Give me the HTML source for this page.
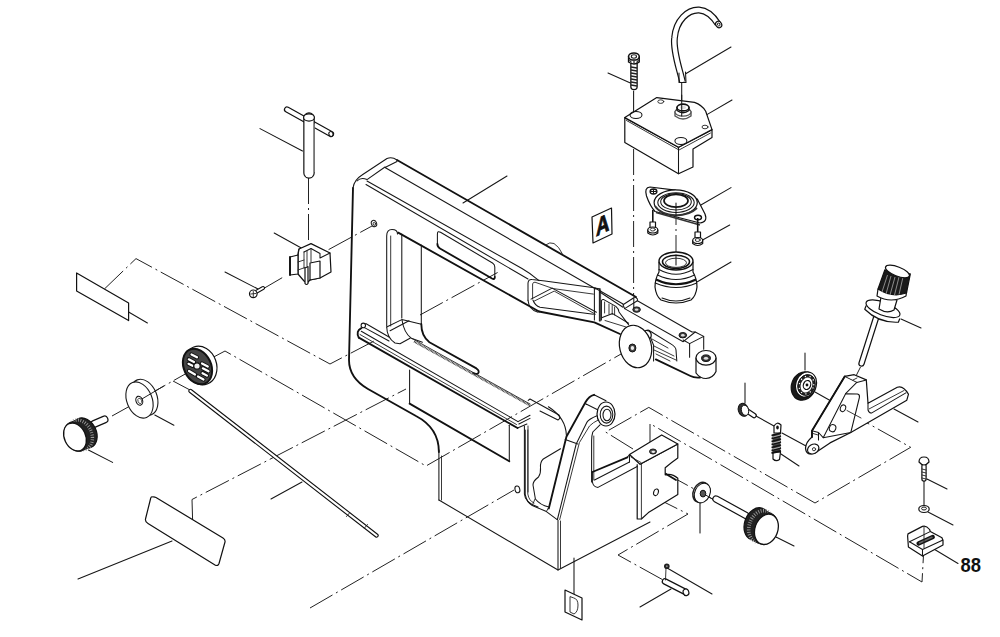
<!DOCTYPE html>
<html><head><meta charset="utf-8"><style>
html,body{margin:0;padding:0;background:#fff;width:1000px;height:637px;overflow:hidden}
svg{display:block;font-family:"Liberation Sans",sans-serif}
.l{fill:none;stroke:#161616;stroke-width:1.05;stroke-linejoin:round;stroke-linecap:round}
.t{fill:none;stroke:#111;stroke-width:1.85;stroke-linejoin:round;stroke-linecap:round}
.th{fill:none;stroke:#222;stroke-width:0.9;stroke-linejoin:round;stroke-linecap:round}
.d{fill:none;stroke:#222;stroke-width:1.0;stroke-dasharray:26 4 2 4}
.w{fill:#fff;stroke:#111;stroke-width:1.2;stroke-linejoin:round}
.wt{fill:#fff;stroke:#111;stroke-width:2;stroke-linejoin:round}
</style></head><body>
<svg width="1000" height="637" viewBox="0 0 1000 637">

<!-- ===== dash-dot centre lines ===== -->
<g class="d">
  <path d="M104.4,289 L136,258.6 L330,364 L376,340"/>
  <path d="M308.5,178 L308.5,244"/>
  <path d="M264,288.3 L282.2,277.7"/>
  <path d="M328.6,249.6 L372,226"/>
  <path d="M112,416 L130,406"/>
  <path d="M142.7,398 L187,373"/>
  <path d="M173,381 L190,390"/>
  <path d="M208,360 L225,351 L426,466 L628,350"/>
  <path d="M192.6,520 L192,499.5 L406,389"/>
  <path d="M420,315 L497.6,272.5"/>
  <path d="M633.6,149 L633.6,296"/>
  <path d="M310,608 L514,490"/>
  <path d="M633,449 L605.6,432 L648.8,407.4 L815,503 L910.7,447.3 L841.8,408.8"/>
  <path d="M650,450 L650,423.6 L922,582 L923.5,555"/>
  <path d="M665,473 L716,501"/>
  <path d="M654,497 L688,514 L618,555 L665,581"/>
  <path d="M676,261 L676,203"/>
  <path d="M860.5,367 L854,380"/>
</g>

<!-- ===== leader lines ===== -->
<g class="l">
  <path d="M128.6,312 L147.4,323"/>
  <path d="M260,128.6 L302.5,151"/>
  <path d="M274.2,233 L301.3,248"/>
  <path d="M225,272 L258,289"/>
  <path d="M88.4,450 L112.6,462.4"/>
  <path d="M154.8,415 L173.9,425.2"/>
  <path d="M78,579 L172,541"/>
  <path d="M271,499 L302,482"/>
  <path d="M463,203 L507,176"/>
  <path d="M608,73 L630.4,83"/>
  <path d="M685.7,73.7 L731,47"/>
  <path d="M707.3,114.4 L732,100"/>
  <path d="M700.9,205 L731,187.6"/>
  <path d="M703,239.7 L729.7,225"/>
  <path d="M697.4,281.8 L731,262"/>
  <path d="M901,319 L921,328"/>
  <path d="M805,353 L805,370"/>
  <path d="M745,383 L745,403"/>
  <path d="M815,392 L831,401"/>
  <path d="M756,416 L774,426"/>
  <path d="M782,433 L806,446"/>
  <path d="M781,454 L799,466"/>
  <path d="M894,409 L918,422"/>
  <path d="M927,479 L947,489"/>
  <path d="M928,512 L953,525"/>
  <path d="M933,548.5 L958,563.5"/>
  <path d="M700,502 L700,533"/>
  <path d="M776,537 L794,546"/>
  <path d="M640,607 L671,589"/>
  <path d="M574,558 L574,597"/>
  <path d="M924,479 L924,507"/>
  <path d="M681.7,82.5 L681.7,104"/>
  <path d="M633.6,91 L633.6,116"/>
</g>


<!-- ===== main frame ===== -->
<g id="frame">
  <!-- outer silhouette -->
  <path class="t" d="M636,297 L397,160"/>
  <path class="th" d="M545.5,245 Q550,241.5 554,243.5 Q559,246.5 562.2,253.5"/>
  <path class="l" d="M397,160 Q392,156.5 387,158.5 L362,175 Q354,180 353,188"/>
  <path class="t" d="M353,188 L349,360 Q349,378 368,389 L416,416 Q438.9,428 438.9,452"/>
  <path class="l" d="M438.9,450 L438.9,500"/>
  <ellipse class="l" cx="374" cy="223.5" rx="2.6" ry="3.3" transform="rotate(-20 374 223.5)"/>
  <ellipse class="th" cx="374.3" cy="223.8" rx="1.2" ry="1.6"/>
  <path class="l" d="M438.9,500 L558,570 L650,522"/>
  <path class="th" d="M441.5,456 L441.5,500"/>
  <ellipse class="l" cx="517.4" cy="489.4" rx="2.4" ry="3.4" transform="rotate(-15 517.4 489.4)"/>
  <path class="l" d="M558,521 L558,570"/>
  <path class="th" d="M560.5,521 L560.5,568"/>
  <!-- top face lines -->
  <path class="l" d="M397,161.5 L385,167.5 L596,289"/>
  <path class="l" d="M385,167 L367,179.6 Q361,177 357,181"/>
  <path class="l" d="M367,181 L522,268.5 Q530,273 539,280.6"/>
  <path class="l" d="M366,184.5 L528,279"/>
  <!-- slot -->
  <path class="l" d="M437.4,244 L437.4,234 Q437.4,230.5 440.5,232.3 L492.5,263 Q494.8,264.5 494.8,267 L494.8,277"/>
  <path class="t" d="M437.4,244 Q437.4,247 440,248.5 L492,278.5 Q494.8,280 494.8,277"/>
  <!-- window -->
  <path class="t" d="M398.2,232.6 L539,311.5"/>
  <path class="l" d="M386.7,326 L386.7,236 Q386.7,229.5 392,229.5 Q397.5,229.5 397.5,234"/>
  <path class="th" d="M390.7,326 L390.7,236"/>
  <path class="l" d="M401.8,234 L401.8,318"/>
  <path class="l" d="M421.3,245 L421.3,324"/>
  <path class="l" d="M386.7,327 Q387,338 395,343 L400,343.7 L410,338.2"/>
  <path class="l" d="M386.7,327 L401.8,319.6 L420.4,324.1"/>
  <path class="l" d="M402,320 Q404,333 411.3,338.2 L422.4,342.2"/>
  <path class="t" d="M421.3,324 Q421.3,336 429.4,342.2 L476.4,368.4 Q480,371 478,373.5 Q476,374.5 473,373"/>
  <path class="l" d="M390.1,330.7 L409,320.8"/>
  <!-- rail -->
  <path class="l" d="M365.7,323.5 L389,337"/>
  <path class="l" d="M364.5,327.6 L389,341"/>
  <ellipse class="l" cx="363.3" cy="325.4" rx="2.2" ry="2.3"/>
  <path class="th" d="M412,338.5 L530,404"/>
  <path d="M414,341.5 L530,405.5" stroke="#333" stroke-width="2" stroke-dasharray="0.8 0.6" fill="none"/>
  <path class="t" d="M361.3,328.2 Q355.5,331 358.8,337.6"/>
  <path class="t" d="M358.8,337.6 L517.5,428"/>
  <path class="l" d="M361.3,331.3 L518,421.6"/>
  <path class="th" d="M360,334.5 L516.5,424.5"/>
  <path class="l" d="M518,421.6 L530,415.2"/>
  <path class="l" d="M518.9,424 L530,418.4"/>
  <path class="l" d="M517.5,428 L526.9,424"/>
  <!-- lower panel -->
  <path class="l" d="M409.6,370 L409.6,403.6"/>
  <path class="t" d="M409.6,403.6 L509.3,461.2"/>
  <path class="l" d="M509.3,461.2 L509.3,425.2"/>
  <!-- blade holder at rail end -->
  <path class="l" d="M528.2,400.4 L530,399 L559,415 Q561,418 558,420 L540,411"/>
  <path class="l" d="M548.4,406.8 Q566,418 566.4,435.6"/>
  <path class="l" d="M524.4,426 L524.4,494 Q525,503 538,507"/>
  <path class="th" d="M528,426 L528,492"/>
  <!-- truss -->
  <path class="t" d="M539,311.5 L594.4,322.3 L620,334"/>
  <path class="l" d="M528,300.2 L528,283 Q528.5,279 532,279.5 L545,281 L592.4,287.6 L600.4,289.1"/>
  <path class="th" d="M532.6,299 L532.6,284 Q533,282 535,282.2 L553.2,288.6 L593.4,294.1"/>
  <path class="l" d="M531,299.1 L552.2,288.1 L596.4,312.2"/>
  <path class="th" d="M534,301.2 L554.2,291.1 L595.4,314.2"/>
  <path class="l" d="M533,300.2 Q535,305.5 540,307.2 L593.4,314.2"/>
  <path class="l" d="M528,300.2 Q529,310 538,312.2"/>
  <path class="l" d="M594.4,288.6 L594.4,320"/>
  <path class="l" d="M599.4,289 L599.4,321"/>
  <path class="th" d="M600.6,290 L600.6,321"/>
  <path class="l" d="M595,288 L623,304"/>
  <path class="l" d="M599.8,292 L623,307.2"/>
  <path class="l" d="M601.4,320 L601.4,301 Q602,299 603.8,299.6 L615.8,306.4 Q619,309 619,312 L626.2,321.6 L628.6,324.8"/>
  <path class="th" d="M604.6,302 L604.6,313 M609,304 L609,314 M612.2,305.5 L612.2,314.5 M614.6,307 L614.6,315"/>
  <path class="l" d="M602.2,317.6 L612.6,313.6 L628.6,323.2"/>
  <path class="th" d="M605,320.5 L626,327"/>
  <!-- arm end top -->
  <path class="l" d="M634.2,296.4 L637.4,298.8 L637.4,300.8 L624.6,308.6 L623,304.8 L634.2,297.5"/>
  <path class="l" d="M637.4,300.8 L692,332 L695.2,332 L703.7,336.4 L703.7,349.2"/>
  <path class="l" d="M624.6,308.6 L683.2,341.7 L695.2,332"/>
  <path class="l" d="M683.2,340 L689.6,343.6 L703.7,336.4"/>
  <path class="l" d="M689.6,343.6 L689.6,357.2"/>
  <path class="l" d="M633.8,298.4 L633.8,308"/>
  <ellipse cx="636.6" cy="309.6" rx="3.8" ry="2.7" fill="#444" stroke="#111" stroke-width="1"/>
  <ellipse cx="682.8" cy="335.2" rx="3.8" ry="2.7" fill="#444" stroke="#111" stroke-width="1"/>
  <ellipse cx="636.6" cy="309.6" rx="1.8" ry="1.2" fill="#ddd"/>
  <ellipse cx="682.8" cy="335.2" rx="1.8" ry="1.2" fill="#ddd"/>
  <!-- ribbed slot -->
  <path class="l" d="M653.6,361 L653.6,345.2 L648.8,333.2 Q646,331 647,330.5 Q648,329.5 650,331 L670.4,343.6 Q676,347 676,350 L676.8,361"/>
  <path class="th" d="M654,346 L674,356 M654,350 L676,360 M656,354 L670,361 M652,339 L668,348"/>
  <!-- eye boss -->
  <path class="w" d="M696,358 L696,373 Q700,378.5 706,378.5 Q713,378 716,371.5 L716,358 Z"/>
  <ellipse class="w" cx="706" cy="357.8" rx="10" ry="7.3"/>
  <ellipse cx="706" cy="358.2" rx="4.4" ry="3.3" fill="#333" stroke="#111" stroke-width="1"/>
  <ellipse cx="706" cy="358.2" rx="2.2" ry="1.5" fill="#ddd"/>
  <path class="t" d="M655.8,359.4 L690.5,376 Q694,378 700,377.5"/>
  <!-- pulley disc -->
  <path class="w" d="M644,333 Q645,329 649,331 Q652,333 651,337 L648,340 Z"/>
  <ellipse class="w" cx="635.5" cy="346.5" rx="15.8" ry="21.5" transform="rotate(-14 635.5 346.5)"/>
  <ellipse cx="632.4" cy="348" rx="3.5" ry="4" fill="#444" stroke="#111" stroke-width="1"/>
  <ellipse cx="632.4" cy="348" rx="1.7" ry="2.1" fill="#eee"/>
</g>


<!-- ===== parts ===== -->
<!-- T wrench -->
<g>
  <path d="M287,109.5 L331,134" stroke="#111" stroke-width="6.2" stroke-linecap="round" fill="none"/>
  <path d="M287,109.5 L331,134" stroke="#fff" stroke-width="3.8" stroke-linecap="round" fill="none"/>
  <ellipse class="l" cx="331" cy="134" rx="2" ry="2.5" transform="rotate(-30 331 134)"/>
  <path d="M309,118 L309,173" stroke="#111" stroke-width="11.5" stroke-linecap="round" fill="none"/>
  <path d="M309,118 L309,173" stroke="#fff" stroke-width="9.1" stroke-linecap="round" fill="none"/>
  <path d="M314.2,124 L314.2,172" stroke="#888" stroke-width="1" fill="none"/>
  <ellipse class="w" cx="309" cy="117.5" rx="5.4" ry="3.6"/>
</g>
<!-- clip -->
<g>
  <path class="w" d="M299,249 L311,243.6 L330,253 L331,272 L320,278 L310,280 L307,283 L304,281 L298,274 L298,255 Z"/>
  <path class="l" d="M299,249 Q298,251 298,255"/>
  <path class="l" d="M304,252 L311,248.5 L320,253.5 L320,258 L330,253"/>
  <path class="th" d="M304,252 L304,268 M307,251 L307,266"/>
  <path class="th" d="M311,248.5 L311,262"/>
  <path class="w" d="M290,257 L298,255 L298,274 L290,275 Z"/>
  <path class="t" d="M290,257 L290,275"/>
  <path class="th" d="M298,262 L304,260 M298,270 L305,267.5"/>
  <path class="w" d="M310,263 L320,261 L320,278 L310,280 Z"/>
  <path class="w" d="M305,268 L305,283.5 Q306.5,285.5 308,283.5 L308,266.5 Z"/>
</g>
<!-- small screw left -->
<g>
  <path d="M256,292 L263,288" stroke="#111" stroke-width="4" stroke-linecap="round"/>
  <path d="M256,292 L263,288" stroke="#fff" stroke-width="2" stroke-linecap="round"/>
  <circle class="w" cx="253.3" cy="293.8" r="3.8"/>
  <path class="th" d="M250.8,294 L255.8,293.5 M253.3,291.5 L253.3,296.5"/>
</g>
<!-- knob 1 -->
<g>
  <path d="M94,424 L104.5,419.5" stroke="#111" stroke-width="8" stroke-linecap="round"/>
  <path d="M94,424 L104.5,419.5" stroke="#fff" stroke-width="5.6" stroke-linecap="round"/>
  <ellipse cx="84.7" cy="433.0" rx="11.6" ry="15.8" transform="rotate(-25 84.7 433.0)" fill="#222" stroke="#111" stroke-width="1.2"/>
  <ellipse cx="82.8" cy="433.8" rx="11.6" ry="15.8" transform="rotate(-25 82.8 433.8)" fill="#222"/>
  <ellipse cx="80.8" cy="434.6" rx="11.6" ry="15.8" transform="rotate(-25 80.8 434.6)" fill="#222"/>
  <ellipse cx="78.9" cy="435.4" rx="11.6" ry="15.8" transform="rotate(-25 78.9 435.4)" fill="#222"/>
  <ellipse cx="76.9" cy="436.2" rx="11.6" ry="15.8" transform="rotate(-25 76.9 436.2)" fill="#222"/>
  <ellipse cx="80.3" cy="434.8" rx="11.3" ry="15.4" transform="rotate(-25 80.3 434.8)" fill="none" stroke="#999" stroke-width="3.4" stroke-dasharray="0.9 1.5"/>
  <ellipse cx="76.0" cy="436.6" rx="11.6" ry="15.8" transform="rotate(-25 76.0 436.6)" fill="#222"/>
  <ellipse cx="75.0" cy="437.0" rx="10.6" ry="14.6" transform="rotate(-25 75.0 437.0)" fill="#fff" stroke="#111" stroke-width="1.3"/>
</g>
<!-- washer 1 -->
<g>
  <ellipse cx="144.3" cy="397.3" rx="18.8" ry="12.6" transform="rotate(68 144.3 397.3)" fill="#fff" stroke="#1a1a1a" stroke-width="1.1"/>
  <ellipse cx="139.5" cy="400" rx="18.8" ry="12.6" transform="rotate(68 139.5 400)" fill="#fff" stroke="#1a1a1a" stroke-width="1.1"/>
  <path d="M141,399.5 L163.8,386" stroke="#222" stroke-width="1"/>
  <ellipse cx="139.3" cy="400.7" rx="3.3" ry="4.6" transform="rotate(-20 139.3 400.7)" fill="#fff" stroke="#111" stroke-width="1.1"/>
  <ellipse cx="139.8" cy="400.9" rx="1.8" ry="2.8" transform="rotate(-20 139.8 400.9)" fill="none" stroke="#333" stroke-width="0.8"/>
</g>
<!-- grid disc -->
<g>
  <ellipse class="w" cx="200.5" cy="365.5" rx="16" ry="19.7" transform="rotate(-20 200.5 365.5)"/>
  <ellipse cx="197.5" cy="366.5" rx="13.6" ry="18.6" transform="rotate(-25 197.5 366.5)" fill="#444" stroke="#111" stroke-width="2"/>
  <path d="M191.5,354.5 L197,357.3 M188.8,359.3 L194,362 M188.5,363.8 L192.5,365.8 M202,363.5 L207.8,366.5 M202.8,368.3 L208.5,371.3 M202.5,373.2 L207,375.6 M189,371 L195,374.5 M198,376.5 L203.5,379.5" stroke="#111" stroke-width="4.2" stroke-linecap="round"/>
  <path d="M191.5,354.5 L197,357.3 M188.8,359.3 L194,362 M188.5,363.8 L192.5,365.8 M202,363.5 L207.8,366.5 M202.8,368.3 L208.5,371.3 M202.5,373.2 L207,375.6 M189,371 L195,374.5 M198,376.5 L203.5,379.5" stroke="#fff" stroke-width="2.2" stroke-linecap="round"/>
  <circle cx="197" cy="366" r="3.2" fill="#eee" stroke="#111" stroke-width="1.2"/>
</g>
<!-- rod -->
<g>
  <path d="M190.5,391 L376.5,535.5" stroke="#111" stroke-width="4.4" stroke-linecap="round"/>
  <path d="M190.5,391 L376.5,535.5" stroke="#fff" stroke-width="2.2" stroke-linecap="round"/>
  <path class="th" d="M346.5,516.5 L349.5,513 M364.5,528 L367.5,524.5"/>
</g>
<!-- top screw -->
<g>
  <path d="M634,63 L634,86.5" stroke="#111" stroke-width="7.6" stroke-linecap="round"/>
  <path d="M634,63 L634,86.5" stroke="#fff" stroke-width="5" stroke-linecap="round"/>
  <path d="M631,67 L637,68 M631,70 L637,71 M631,73 L637,74 M631,76 L637,77 M631,79 L637,80 M631,82 L637,83 M631,85 L637,86" stroke="#222" stroke-width="1.3"/>
  <path d="M628.6,56.5 L628.6,62 Q634,66 639.2,62 L639.2,56.5 Z" fill="#fff" stroke="#111" stroke-width="1.5"/>
  <ellipse cx="633.9" cy="56.5" rx="5.3" ry="3.6" fill="#fff" stroke="#111" stroke-width="1.5"/>
  <ellipse cx="633.9" cy="56.5" rx="2.6" ry="1.7" fill="none" stroke="#222" stroke-width="1.1"/>
  <path d="M629.5,60 L631.5,62.5 M638.5,60 L636.5,62.5 M634,60.5 L634,63.5" stroke="#222" stroke-width="1.2"/>
</g>
<!-- hose -->
<g>
  <path d="M682.5,82 C680,70 673,52 674.5,38 C676,20 688,9.5 699,10 C707,10.5 713,16 718,24" stroke="#111" stroke-width="6.8" fill="none"/>
  <path d="M682.5,82 C680,70 673,52 674.5,38 C676,20 688,9.5 699,10 C707,10.5 713,16 718,24" stroke="#fff" stroke-width="4.4" fill="none"/>
  <ellipse class="w" cx="718.7" cy="24.5" rx="2.8" ry="3.4" transform="rotate(-35 718.7 24.5)"/>
  <ellipse class="th" cx="718.7" cy="24.5" rx="1.2" ry="1.6" transform="rotate(-35 718.7 24.5)"/>
  <path class="l" d="M679,73 L679,82.5 L686,82.5 L685.5,72"/>
</g>
<!-- block -->
<g>
  <path class="w" d="M624.8,117.6 L624.8,142.4 L678.5,173.7 L693,167 L693,149 L712,137.6 L712,129.6 L678.5,147.3 Z"/>
  <path class="w" d="M624.8,117.6 L656.8,97.6 L694.5,102.4 Q702,105 705.7,111.2 L712,129.6 L678.5,147.3 Z"/>
  <path class="th" d="M626.5,120.5 L679,150 L710.5,133"/>
  <path class="l" d="M678.5,147.3 L678.5,173.7"/>
  <ellipse class="l" cx="636" cy="115" rx="6" ry="3.5"/>
  <ellipse class="l" cx="680.9" cy="141" rx="6" ry="3.5"/>
  <ellipse class="th" cx="660.8" cy="101.6" rx="3" ry="1.8"/>
  <ellipse class="th" cx="705" cy="127" rx="3" ry="1.8"/>
  <path d="M675,112 L675,116 Q683,122 691,116 L691,112 Z" fill="#fff" stroke="#555" stroke-width="1.4"/>
  <ellipse cx="683" cy="112" rx="8" ry="4.2" fill="#fff" stroke="#555" stroke-width="1.2"/>
  <path d="M677,107.5 L677,110.5 Q683,115 689,110.5 L689,107.5 Z" fill="#fff" stroke="#111" stroke-width="1.3"/>
  <ellipse cx="683" cy="107.5" rx="6" ry="3.4" fill="#fff" stroke="#111" stroke-width="1.6"/>
  <ellipse cx="683" cy="107.5" rx="3" ry="1.7" fill="#ddd"/>
  <path class="l" d="M681.7,95 L681.7,116"/>
</g>
<!-- flange -->
<g>
  <path class="w" d="M646.5,196 Q644,187.5 650,187 L675.4,190.2 L697.3,199 L705,214 Q708,222 700,223 L655,211.5 Q650,206 646.5,196 Z"/>
  <path d="M656,212.5 L700,225" stroke="#333" stroke-width="1.6" fill="none"/>
  <ellipse class="w" cx="675.7" cy="202.6" rx="21.6" ry="12.7"/>
  <path d="M655,206 Q660,214 676,215.5 Q690,215 697,208" stroke="#333" stroke-width="1.8" fill="none"/>
  <ellipse class="l" cx="676" cy="202.6" rx="18.2" ry="9.8"/>
  <ellipse class="l" cx="676" cy="201.8" rx="15.3" ry="8.2"/>
  <ellipse cx="676" cy="200.8" rx="12" ry="6.3" fill="#fff" stroke="#111" stroke-width="1.7"/>
  <ellipse cx="653.5" cy="191.5" rx="3.4" ry="2.5" fill="#fff" stroke="#111" stroke-width="1.3"/>
  <path d="M650.5,191.5 L656.5,191.5 M653.5,189.2 L653.5,193.8" stroke="#111" stroke-width="1"/>
  <ellipse cx="698" cy="217.5" rx="3.5" ry="2.3" fill="#fff" stroke="#111" stroke-width="1.4"/>
  <path class="l" d="M676,203 L676,216"/>
</g>
<!-- flange screws -->
<g>
  <path d="M652.8,210 L652.8,227" stroke="#111" stroke-width="1.6"/>
  <path class="w" d="M650,222 L650,228 L655.5,228 L655.5,222 Z"/>
  <path class="w" d="M647.8,230 L647.8,233 Q652.8,237 657.8,233 L657.8,230 Z"/>
  <ellipse class="w" cx="652.8" cy="230" rx="5" ry="3"/>
  <ellipse class="th" cx="652.8" cy="229.5" rx="2.5" ry="1.5"/>
  <path d="M697.7,218 L697.7,237" stroke="#111" stroke-width="1.6"/>
  <path class="w" d="M695,232 L695,238 L700.5,238 L700.5,232 Z"/>
  <path class="w" d="M692.7,240.5 L692.7,243.5 Q697.7,247.5 702.7,243.5 L702.7,240.5 Z"/>
  <ellipse class="w" cx="697.7" cy="240.5" rx="5" ry="3"/>
  <ellipse class="th" cx="697.7" cy="240" rx="2.5" ry="1.5"/>
</g>
<!-- bushing -->
<g>
  <path class="w" d="M659,262 L659,272 Q655,279 655,287 Q656,296 661,300 Q676,306 691,300 Q696,296 697,287 Q697,279 693,272 L693,262 Z"/>
  <ellipse cx="676" cy="261" rx="17" ry="9" fill="#fff" stroke="#111" stroke-width="1.4"/>
  <ellipse cx="676" cy="261.8" rx="13.5" ry="6.6" fill="none" stroke="#111" stroke-width="1.6"/>
  <ellipse cx="676" cy="262.8" rx="10.5" ry="4.6" fill="none" stroke="#333" stroke-width="1"/>
  <path class="l" d="M659,269.5 Q676,279 693,269.5"/>
  <path class="l" d="M657.5,275 Q676,284 694.5,275"/>
  <path d="M656,279.5 Q676,289 696,279.5" stroke="#111" stroke-width="2.2" fill="none"/>
  <path class="l" d="M655.3,283 Q676,292 696.7,283"/>
  <path class="l" d="M662,298 Q676,304 690,298"/>
  <path class="l" d="M676,255 L676,265"/>
</g>

<!-- support leg -->
<g>
  <path class="t" d="M594,394.8 Q589,396 585.6,402 L566.4,436.8 L548.8,508.5"/>
  <path class="l" d="M594,394.8 L606,400.8"/>
  <path class="l" d="M585.6,403.8 L597.6,409.8"/>
  <path class="l" d="M597,415.8 Q589,419 586.8,422.4 L576.2,444 L557.4,519.5"/>
  <path class="th" d="M600,419 Q592,423 589.5,426 L579.4,442.6 L559.7,519.5"/>
  <path class="l" d="M565.2,439.4 L577.8,444"/>
  <path class="l" d="M600,424.8 L592.8,432 Q591.6,436 591.6,440.4 L591.6,482"/>
  <path class="th" d="M593.8,436 L593.8,480"/>
  <ellipse class="w" cx="606" cy="414" rx="9" ry="12"/>
  <ellipse class="l" cx="606.5" cy="414.6" rx="6.3" ry="8.5"/>
  <ellipse class="l" cx="607" cy="415" rx="4" ry="5.8"/>
  <!-- notch contour -->
  <path class="l" d="M560.5,448.8 L543.3,459 Q540,462 540.5,467.7 Q541,473 538.5,477 Q533,481 533,485 L535.4,499 Q540,505 548.8,507"/>
  <path class="l" d="M525.2,430 L525.2,494.4 Q527,503 532.3,505.4 L546.4,511.6 L558.2,520.3"/>
  <path class="th" d="M527.8,430 L527.8,494 Q529,501 534,503"/>
  <path class="th" d="M532.3,505.4 L535,499 M546.4,511.6 L548.8,507"/>
</g>
<!-- bracket -->
<g>
  <path class="w" d="M637.2,464.3 L637.2,519 L641.4,519 L648.4,512.6 L677.8,494.4 L677.8,478.3 Q672,473 665.2,474.8 L665.2,467.8 Q672,462 677.8,458 L677.8,444 L640,464.3"/>
  <path class="th" d="M641.4,464.3 L641.4,519"/>
  <path class="w" d="M629.5,454.5 L661.7,434.9 L677.8,444 L640,464.3 Z"/>
  <path class="th" d="M631,457 L641,462.5"/>
  <ellipse cx="653" cy="451.5" rx="3.5" ry="2.5" fill="#555" stroke="#111" stroke-width="1"/>
  <ellipse cx="653.3" cy="451.8" rx="1.8" ry="1.1" fill="#eee"/>
  <path class="t" d="M592.4,472 L627.4,457.3"/>
  <path class="l" d="M592.4,472 L592.4,481.8 Q593,487 598,487.4 L637.2,466.5"/>
  <path class="l" d="M594.5,480 L629.5,462"/>
  <path class="l" d="M627.4,457.3 L629.5,454.5 M629.5,454.5 L629.5,462"/>
  <path class="t" d="M666,474 L676,480"/>
  <ellipse class="l" cx="656" cy="492.3" rx="2.3" ry="3.4" transform="rotate(20 656 492.3)"/>
</g>
<!-- washer 2 -->
<g>
  <ellipse cx="701" cy="492.2" rx="7.6" ry="10.3" transform="rotate(25 701 492.2)" fill="#fff" stroke="#222" stroke-width="1.6"/>
  <ellipse cx="702.4" cy="493" rx="7.6" ry="10.3" transform="rotate(25 702.4 493)" fill="#fff" stroke="#111" stroke-width="1.1"/>
  <path d="M703,493.5 L716,501" stroke="#222" stroke-width="1"/>
  <ellipse cx="703" cy="493.6" rx="2.8" ry="3.4" fill="#555" stroke="#111" stroke-width="1"/>
</g>
<!-- knob 2 -->
<g>
  <path d="M716,499 L746,515.5" stroke="#111" stroke-width="7.4" stroke-linecap="round"/>
  <path d="M716,499 L746,515.5" stroke="#fff" stroke-width="5" stroke-linecap="round"/>
  <ellipse cx="756.8" cy="523.9" rx="12.2" ry="16.6" transform="rotate(20 756.8 523.9)" fill="#222" stroke="#111" stroke-width="1.2"/>
  <ellipse cx="758.5" cy="524.9" rx="12.2" ry="16.6" transform="rotate(20 758.5 524.9)" fill="#222"/>
  <ellipse cx="760.3" cy="525.9" rx="12.2" ry="16.6" transform="rotate(20 760.3 525.9)" fill="#222"/>
  <ellipse cx="762.0" cy="526.9" rx="12.2" ry="16.6" transform="rotate(20 762.0 526.9)" fill="#222"/>
  <ellipse cx="763.8" cy="527.8" rx="12.2" ry="16.6" transform="rotate(20 763.8 527.8)" fill="#222"/>
  <ellipse cx="761.2" cy="526.4" rx="11.9" ry="16.2" transform="rotate(20 761.2 526.4)" fill="none" stroke="#999" stroke-width="3.6" stroke-dasharray="0.9 1.5"/>
  <ellipse cx="765.4" cy="528.7" rx="12.2" ry="16.6" transform="rotate(20 765.4 528.7)" fill="#222"/>
  <ellipse cx="766.4" cy="529.3" rx="11.4" ry="15.6" transform="rotate(20 766.4 529.3)" fill="#fff" stroke="#111" stroke-width="1.3"/>
</g>
<!-- pin -->
<g>
  <path d="M665,581.5 L685.5,592" stroke="#111" stroke-width="6.6" stroke-linecap="round"/>
  <path d="M665,581.5 L685.5,592" stroke="#fff" stroke-width="4.2" stroke-linecap="round"/>
  <ellipse class="w" cx="686" cy="592.3" rx="2.8" ry="3.3" transform="rotate(-20 686 592.3)"/>
  <circle cx="666.8" cy="566.2" r="2.8" fill="#222"/>
  <circle cx="666.8" cy="566.2" r="1" fill="#888"/>
  <path class="th" d="M666,568 L665.5,580"/>
  <path class="l" d="M668,568.5 L712,594"/>
</g>


<!-- right knob -->
<g>
  <path d="M876,318 L861.5,363.5" stroke="#111" stroke-width="6.4" stroke-linecap="round"/>
  <path d="M876,318 L861.5,363.5" stroke="#fff" stroke-width="4" stroke-linecap="round"/>
  <path class="w" d="M865,312 L865,316 Q883,324 901,316 L901,312" transform="rotate(21 883 312)"/>
  <ellipse class="w" cx="883" cy="308.7" rx="18" ry="6.5" transform="rotate(21 883 308.7)"/>
  <path class="w" d="M881,297 L879,309 Q887,314 894,310 L897,300 Z"/>
  <path class="w" d="M878,289 L877,296 Q891,304 906,296 L906.5,292 Z"/>
  <path d="M884.8,270 L878,289 Q892,298 906.5,293 L910.3,274 Z" fill="#1a1a1a" stroke="#111" stroke-width="1.2"/>
  <g stroke="#999" stroke-width="0.9">
    <path d="M887.5,275 L882,292 M891,276 L886,294 M895,277 L890,295 M899,277 L894.5,295 M903,277 L899,294.5"/>
  </g>
  <ellipse class="w" cx="897.5" cy="271.5" rx="12.8" ry="4.6" transform="rotate(21 897.5 271.5)"/>
</g>
<!-- lever -->
<g>
  <path class="w" d="M844.7,376.4 L854.2,374.7 L866.3,379.9 L868,403.2 L897.3,387.3 Q903,385 908.5,394.2 L906.8,400.2 L850.8,432.5 L830,442.9 L815,453 Q806,456.5 805.5,448 Q806,442 812,437 L812,430.8 Z"/>
  <path class="t" d="M844.7,376.4 L812,430.8 L812,437"/>
  <path class="l" d="M844.7,376.4 L856.8,382.4 L866.3,379.9"/>
  <path class="l" d="M856.8,382.4 L845.6,393.7"/>
  <path class="th" d="M853,380 L857,378"/>
  <path class="l" d="M868,403.2 L868,410 Q869,413 871.4,413.1 L905.9,392.9"/>
  <path class="th" d="M869,409 L904,390.5"/>
  <path class="l" d="M845.6,393.7 L857.5,394 Q860,394.5 859.4,397.5 L850.8,432.5 L823.2,437.7 Z"/>
  <path class="l" d="M812,430.8 L818.5,432.5 L818.5,440 M818.5,432.5 L823.2,437.7"/>
  <path class="th" d="M813,433.5 L818,435"/>
  <ellipse class="l" cx="843" cy="408.3" rx="2.6" ry="3.4" transform="rotate(20 843 408.3)"/>
  <ellipse class="l" cx="832.6" cy="428.2" rx="3.2" ry="3.6" transform="rotate(20 832.6 428.2)"/>
  <ellipse class="w" cx="813.2" cy="449" rx="6" ry="4.6" transform="rotate(-30 813.2 449)"/>
  <circle class="th" cx="814" cy="449.2" r="1.6"/>
  <path class="th" d="M847,410.5 L861,418"/>
</g>
<!-- pulley wheel -->
<g>
  <ellipse cx="803.5" cy="386" rx="12" ry="14.5" transform="rotate(20 803.5 386)" fill="#1a1a1a" stroke="#111" stroke-width="1.2"/>
  <ellipse class="w" cx="806" cy="384.5" rx="10.3" ry="12.8" transform="rotate(20 806 384.5)"/>
  <ellipse cx="806.5" cy="385" rx="7.2" ry="9.2" transform="rotate(20 806.5 385)" fill="none" stroke="#222" stroke-width="3"/>
  <ellipse cx="806.5" cy="385" rx="7.2" ry="9.2" transform="rotate(20 806.5 385)" fill="none" stroke="#fff" stroke-width="1.4" stroke-dasharray="1.2 3.6"/>
  <ellipse cx="806.5" cy="385" rx="8.5" ry="10.6" transform="rotate(20 806.5 385)" fill="none" stroke="#111" stroke-width="0.9"/>
  <ellipse cx="807" cy="385" rx="3.6" ry="4.6" transform="rotate(20 807 385)" fill="#fff" stroke="#111" stroke-width="1.2"/>
  <circle cx="807" cy="385" r="1.4" fill="#111"/>
</g>
<!-- small screw -->
<g>
  <path d="M748,411.5 L754,415.5" stroke="#111" stroke-width="5.6" stroke-linecap="round"/>
  <path d="M748,411.5 L754,415.5" stroke="#fff" stroke-width="3.2" stroke-linecap="round"/>
  <ellipse cx="743.3" cy="409.8" rx="5" ry="6.6" transform="rotate(-15 743.3 409.8)" fill="#333" stroke="#111" stroke-width="1"/>
  <ellipse cx="745" cy="410.3" rx="3.6" ry="5.2" transform="rotate(-15 745 410.3)" fill="#fff" stroke="#111" stroke-width="0.9"/>
</g>
<!-- spring -->
<g>
  <path class="w" d="M774,433 L774,426 Q777,421 781,425 L780.5,433 Z"/>
  <path class="w" d="M773,452 L773,459 Q776,462 779.5,459.5 L780.5,452 Z"/>
  <path d="M772.5,434 L772.5,452.5 L780.5,452 L780.5,433 Z" fill="#444"/>
  <g stroke="#111" stroke-width="1.8">
    <path d="M771.5,435.5 L781,433 M771.5,438.5 L781,436 M771.5,441.5 L781,439 M771.5,444.5 L781,442 M771.5,447.5 L781,445 M771.5,450.5 L781,448 M771.5,453 L781,451"/>
  </g>
  <g stroke="#ccc" stroke-width="0.8">
    <path d="M773,437 L780,435.2 M773,443 L780,441.2 M773,449 L780,447.2"/>
  </g>
  <ellipse cx="777.5" cy="427.5" rx="1.3" ry="2" fill="#111"/>
</g>
<!-- screw 88 -->
<g>
  <path d="M924,466 L924,479" stroke="#111" stroke-width="5.4" stroke-linecap="round"/>
  <path d="M924,466 L924,479" stroke="#fff" stroke-width="3" stroke-linecap="round"/>
  <path class="th" d="M922,469 L926,470 M922,472 L926,473 M922,475 L926,476 M922,478 L926,479"/>
  <path class="w" d="M919,462 Q919,457 924,457 Q929,457 929,462 Q924,468 919,462 Z"/>
  <ellipse cx="924" cy="509" rx="5.2" ry="3.5" fill="#fff" stroke="#111" stroke-width="1.2"/>
  <ellipse cx="924" cy="508.5" rx="2.4" ry="1.5" fill="none" stroke="#111" stroke-width="1"/>
</g>
<!-- bracket 88 -->
<g>
  <path class="w" d="M908,533.9 L922.5,526.4 Q926,525 929.6,529.5 L930.3,531.5 L942,537.8 L943,541 L943,545 L922.5,556 L908.4,547 L907.6,536 Z"/>
  <path class="l" d="M909.5,541.7 L929.6,531.9"/>
  <path class="l" d="M909.5,541.7 L922.5,549.5 L943,540"/>
  <path class="l" d="M922.5,549.5 L922.5,556"/>
  <path d="M918.5,543.5 L932.8,537" stroke="#111" stroke-width="4.2" stroke-linecap="round"/>
  <path d="M919.5,543 L932,537.3" stroke="#666" stroke-width="1.6" stroke-linecap="round"/>
  <path class="th" d="M924,527 L924,548"/>
</g>

<!-- label A -->
<g>
  <path class="w" d="M592,217 L611.5,208 L612,234 L593,243 Z"/>
  <text x="0" y="0" font-size="25" font-weight="bold" fill="#111" stroke="#111" stroke-width="0.9" transform="matrix(0.74,-0.36,0,1,596,236.5)">A</text>
</g>
<!-- label D -->
<g>
  <path class="w" d="M565,590 L582,598 L582,620 L565,612 Z"/>
  <path class="th" d="M570,597 L570,612 L574,614 Q578,612 578,605 Q578,599 574,598 Z"/>
</g>

<!-- ===== labels ===== -->
<path class="w" d="M76.6,273 L76.6,291 L128.6,320.6 L128.6,303 Z"/>
<path class="w" d="M153,497 Q151,496 150.5,499 L145.5,519 Q145,522 148,523.5 L215,565 Q218,566.5 219,563.5 L225,542 Q225.5,539.5 223,538 L156,497.5 Q154,496.5 153,497 Z"/>

<text x="960.5" y="572" font-size="20" font-weight="bold" fill="#111" textLength="20.5" lengthAdjust="spacingAndGlyphs">88</text>

</svg>
</body></html>
